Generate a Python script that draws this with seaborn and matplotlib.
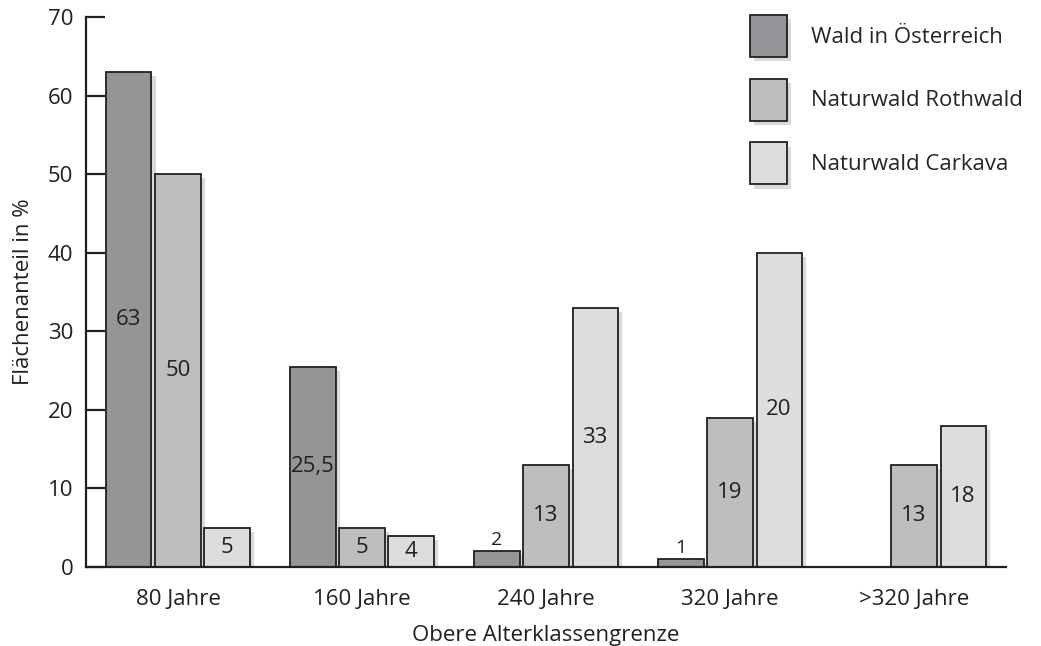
import pandas as pd
import numpy as np
import matplotlib
matplotlib.use("Agg")
import matplotlib.pyplot as plt
import matplotlib.patheffects as pe
from matplotlib.patches import Patch
import seaborn as sns

# --- data ---
age_classes = ["80 Jahre", "160 Jahre", "240 Jahre", "320 Jahre", ">320 Jahre"]
series = ["Wald in Österreich", "Naturwald Rothwald", "Naturwald Carkava"]
wald_at = [63, 25.5, 2, 1, None]
rothwald = [50, 5, 13, 19, 13]
carkava = [5, 4, 33, 40, 18]
# printed numbers (as in the original, incl. its "20" on the 40 bar)
wald_lbl = ["63", "25,5", "2", "1", None]
rothwald_lbl = ["50", "5", "13", "19", "13"]
carkava_lbl = ["5", "4", "33", "20", "18"]
colors = ["#939598", "#bcbec0", "#dcdddf"]

rows = []
for vals, labs, name in [(wald_at, wald_lbl, series[0]),
                         (rothwald, rothwald_lbl, series[1]),
                         (carkava, carkava_lbl, series[2])]:
    for cat, v, l in zip(age_classes, vals, labs):
        if v is not None:
            rows.append({"Klasse": cat, "Serie": name, "Wert": v, "Label": l})
df = pd.DataFrame(rows)

sns.set_theme(style="white")
plt.rcParams["font.family"] = ["Open Sans", "DejaVu Sans"]
ink = "#231f20"
fs = 16

fig = plt.figure(figsize=(10.41, 6.46), dpi=100)
ax = fig.add_axes([0.0826, 0.1223, 0.8838, 0.8514])

sns.barplot(data=df, x="Klasse", y="Wert", hue="Serie",
            order=age_classes, hue_order=series, palette=colors,
            width=0.8, gap=0.08, edgecolor=ink, linewidth=1.3,
            legend=False, errorbar=None, ax=ax)

shadow = [pe.SimplePatchShadow(offset=(3, -3), shadow_rgbFace="#808285", alpha=0.3),
          pe.Normal()]
for bar in ax.patches:
    bar.set_path_effects(shadow)

# value labels, placed from the drawn bars
for cont, name in zip(ax.containers, series):
    sub = df[df["Serie"] == name].set_index("Klasse")
    present = [c for c in age_classes if c in sub.index]
    for bar, cat in zip(cont.patches, present):
        h = bar.get_height()
        if np.isnan(h):
            continue
        txt = sub.loc[cat, "Label"]
        cx = bar.get_x() + bar.get_width() / 2
        if h < 3:
            ax.text(cx, h + 0.3, txt, ha="center", va="bottom", fontsize=fs - 2, color=ink)
        else:
            ax.text(cx, h / 2, txt, ha="center", va="center", fontsize=fs, color=ink)

ax.set_xlim(-0.5, 4.5)
ax.set_ylim(0, 70)
ax.set_yticks(range(0, 71, 10))
ax.set_yticklabels([str(v) for v in range(0, 71, 10)], fontsize=fs, color=ink)
ax.set_xticks(range(5))
ax.set_xticklabels(age_classes, fontsize=fs, color=ink)
ax.set_xticks(np.arange(0.5, 5, 1), minor=True)
ax.tick_params(axis="x", which="major", length=0, pad=16)
ax.tick_params(axis="x", which="minor", direction="in", length=8, width=1.6, color=ink)
ax.tick_params(axis="y", which="major", direction="in", length=14, width=1.6,
               color=ink, pad=9, left=True)

sns.despine(ax=ax)
for s in ["left", "bottom"]:
    ax.spines[s].set_linewidth(1.6)
    ax.spines[s].set_color(ink)

ax.set_xlabel("Obere Alterklassengrenze", fontsize=fs, color=ink, labelpad=11)
ax.set_ylabel("Flächenanteil in %", fontsize=fs, color=ink, labelpad=10)

handles = [Patch(facecolor=c, edgecolor=ink, linewidth=1.3, label=n,
                 path_effects=shadow) for c, n in zip(colors, series)]
fig.legend(handles=handles, loc="upper left", bbox_to_anchor=(0.72, 0.977),
           frameon=False, fontsize=fs, handlelength=1.7, handleheight=2.53,
           labelspacing=0.98, handletextpad=1.05, borderpad=0, borderaxespad=0)

fig.savefig("out.png", dpi=100)
